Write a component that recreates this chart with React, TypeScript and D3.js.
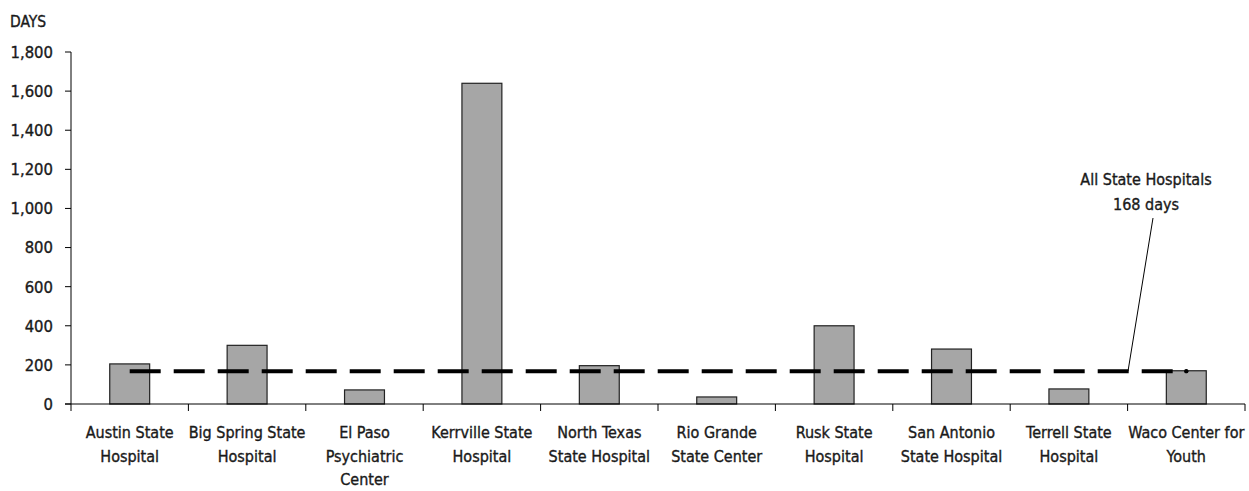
import React from 'react';
import * as d3 from 'd3';

// Data

const hospitals: string[][] = [
    ['Austin State', 'Hospital'],
    ['Big Spring State', 'Hospital'],
    ['El Paso', 'Psychiatric', 'Center'],
    ['Kerrville State', 'Hospital'],
    ['North Texas', 'State Hospital'],
    ['Rio Grande', 'State Center'],
    ['Rusk State', 'Hospital'],
    ['San Antonio', 'State Hospital'],
    ['Terrell State', 'Hospital'],
    ['Waco Center for', 'Youth'],
];

const days: number[] = [205, 300, 72, 1640, 196, 36, 400, 281, 77, 170];

const allHospitalsAvg = 168;

const yTicks: number[] = [0, 200, 400, 600, 800, 1000, 1200, 1400, 1600, 1800];

const W = 1249;
const H = 491;
const margin = { top: 52, right: 4, bottom: 87, left: 71 };

const FONT = '"DejaVu Sans Condensed", "DejaVu Sans", sans-serif';
const INK = '#1a1a1a';

function App() {
    const ids = hospitals.map((_, i) => String(i));

    const x = d3.scaleBand<string>()
        .domain(ids)
        .range([margin.left, W - margin.right])
        .paddingInner(0)
        .paddingOuter(0);

    const y = d3.scaleLinear()
        .domain([0, 1800])
        .range([H - margin.bottom, margin.top]);

    const bw = x.bandwidth();
    const barW = bw * 0.34;
    const y0 = y(0);

    // average line spans first to last category centres
    const lineX0 = (x('0') as number) + bw / 2;
    const lineX1 = (x(String(ids.length - 1)) as number) + bw / 2;
    const avgY = y(allHospitalsAvg);
    const avgLine = d3.line<[number, number]>()([[lineX0, avgY], [lineX1, avgY]]) || '';

    // callout
    const calloutX = 1146;
    const leader = d3.line<[number, number]>()([[1128, avgY], [1153, 218]]) || '';

    const fmt = d3.format(',');

    const boundaries = ids.map((id) => x(id) as number).concat([W - margin.right]);

    return (
        <svg width={W} height={H} style={{ position: 'absolute', left: 0, top: 0, background: '#fff' }}
            fontFamily={FONT} fill={INK} stroke="none">
            <g stroke={INK} strokeWidth={0.35}>
                <text x={10} y={27} fontSize={15.5}>DAYS</text>
                {yTicks.map((t) => (
                    <text key={t} x={53} y={y(t)} dy="0.36em" textAnchor="end" fontSize={16.5}>{fmt(t)}</text>
                ))}
                {hospitals.map((lines, i) => {
                    const cx = (x(String(i)) as number) + bw / 2;
                    return (
                        <text key={i} x={cx} y={438} textAnchor="middle" fontSize={16}>
                            {lines.map((l, j) => (
                                <tspan key={j} x={cx} dy={j === 0 ? 0 : 23.5}>{l}</tspan>
                            ))}
                        </text>
                    );
                })}
                <text x={calloutX} y={185} textAnchor="middle" fontSize={16}>All State Hospitals</text>
                <text x={calloutX} y={210} textAnchor="middle" fontSize={16}>168 days</text>
            </g>

            {/* y axis */}
            <line x1={margin.left} x2={margin.left} y1={margin.top} y2={y0} stroke="#000" strokeWidth={1} />
            {yTicks.map((t) => (
                <line key={t} x1={margin.left - 6} x2={margin.left} y1={y(t)} y2={y(t)} stroke="#000" strokeWidth={1} />
            ))}

            {/* bars */}
            {days.map((v, i) => {
                const cx = (x(String(i)) as number) + bw / 2;
                return (
                    <rect key={i} x={cx - barW / 2} y={y(v)} width={barW} height={y0 - y(v)}
                        fill="#a6a6a6" stroke="#222" strokeWidth={1.2} />
                );
            })}

            {/* x axis */}
            <line x1={margin.left - 6} x2={W - margin.right} y1={y0} y2={y0} stroke="#000" strokeWidth={1} />
            {boundaries.map((bx, i) => (
                <line key={i} x1={bx} x2={bx} y1={y0} y2={y0 + 7} stroke="#000" strokeWidth={1} />
            ))}

            {/* average line */}
            <path d={avgLine} stroke="#000" strokeWidth={4} strokeDasharray="31,13" fill="none" />
            <circle cx={lineX1} cy={avgY} r={2.2} fill="#000" />

            {/* callout */}
            <path d={leader} stroke="#000" strokeWidth={1} fill="none" />
        </svg>
    );
}

export default App;
